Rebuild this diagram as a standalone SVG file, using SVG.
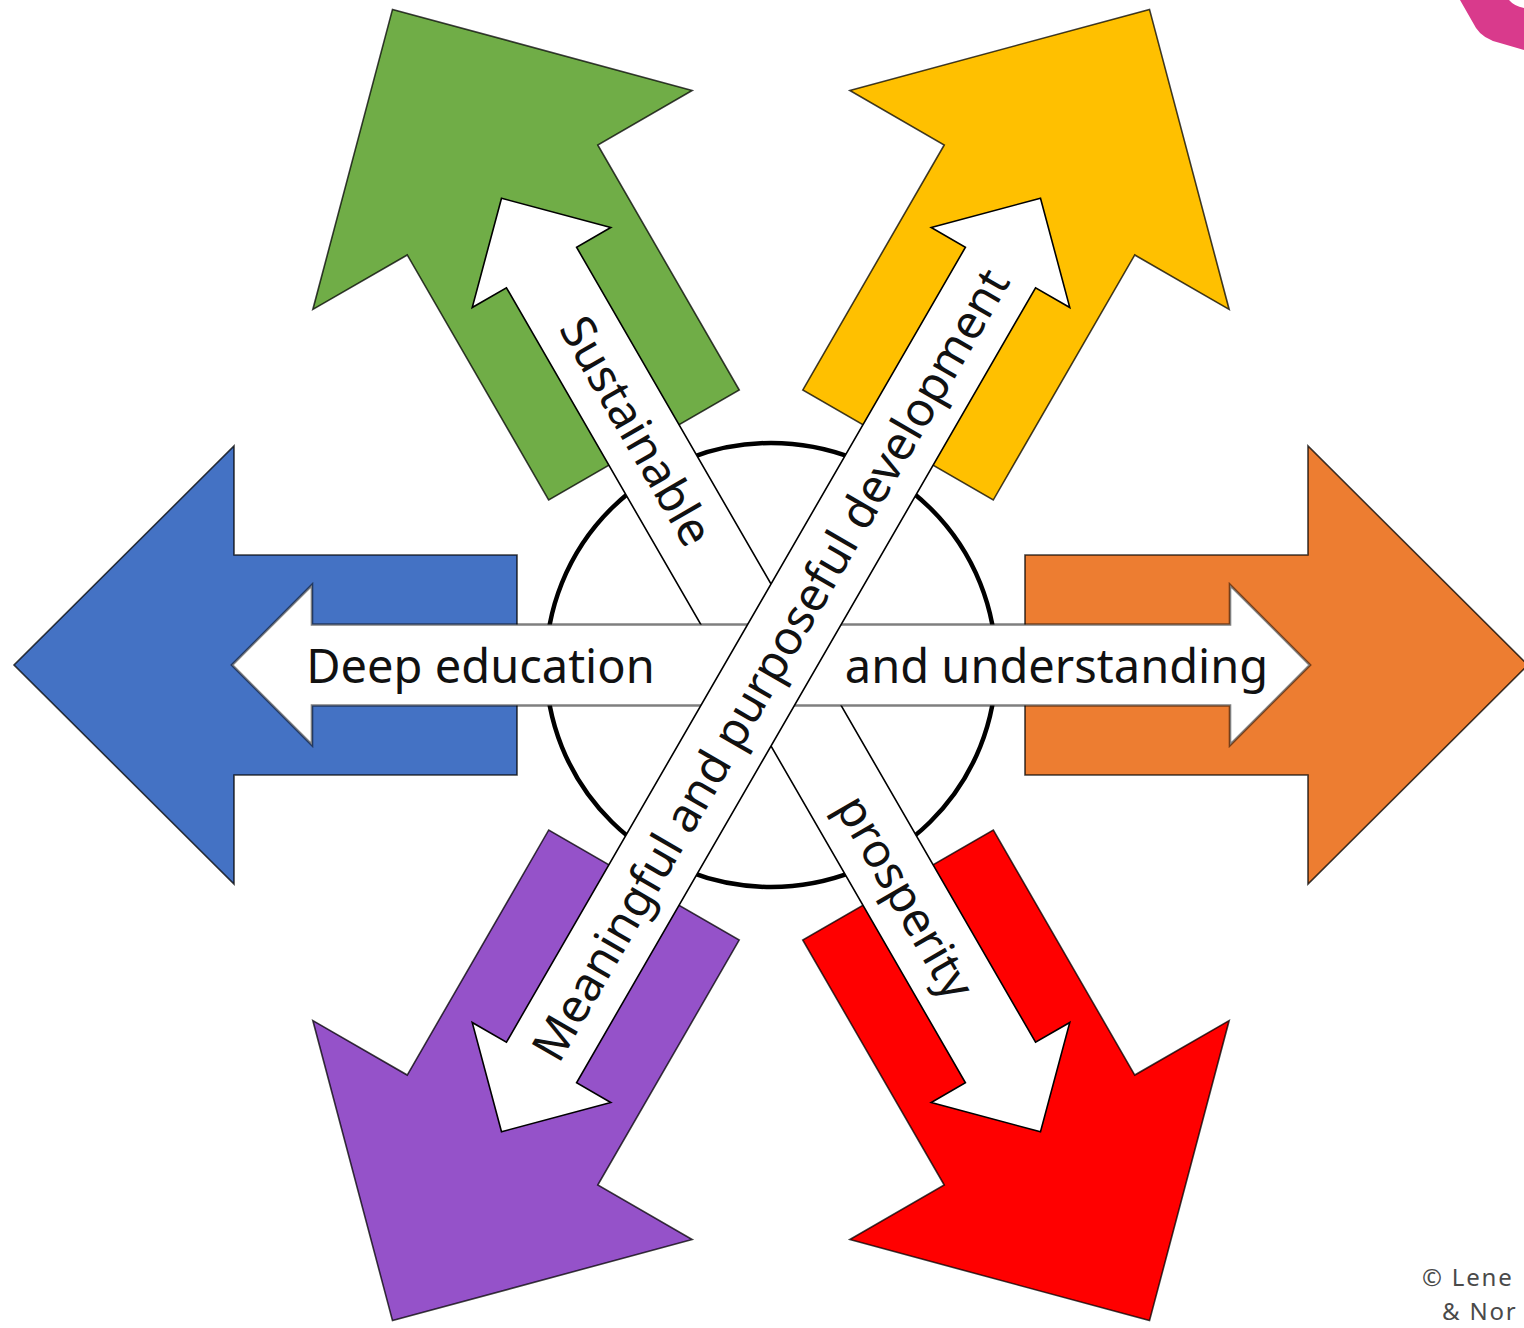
<svg xmlns="http://www.w3.org/2000/svg" width="1524" height="1328" viewBox="0 0 1524 1328">
  <defs>
    <style>
      .big { stroke: #000; stroke-opacity: 0.75; stroke-width: 1.6; stroke-linejoin: miter; }
      .band { fill: #fff; stroke: #000; stroke-width: 1.6; stroke-linejoin: miter; }
      .hband { fill: #fff; stroke: #000; stroke-opacity: 0.5; stroke-width: 2.6; stroke-linejoin: miter; }
      .lbl { font-family: "Noto Sans", "Open Sans", "Liberation Sans", sans-serif; font-size: 47px; fill: #111; }
      .copy { font-family: "Noto Sans", "Open Sans", "Liberation Sans", sans-serif; font-size: 24px; letter-spacing: 1.8px; fill: #4a4a4a; }
    </style>
    <path id="bigArrow" d="M254,-110 L537,-110 L537,-219 L757,0 L537,219 L537,110 L254,110 Z"/>
    <path id="dblArrow" d="M-539,0 L-459,-80 L-459,-40.5 L459,-40.5 L459,-80 L539,0 L459,80 L459,40.5 L-459,40.5 L-459,80 Z"/>
  </defs>
  <rect width="1524" height="1328" fill="#fff"/>

  <path id="corner-mark" d="M1460,0 L1476,28 Q1483,39 1500,43 L1524,50 L1524,8 Q1514,6 1509,0 Z" fill="#D93A8C"/>

  <g id="hub">
    <ellipse cx="771" cy="665" rx="225" ry="222" fill="#fff" stroke="#000" stroke-width="4.5"/>
  </g>

  <g id="arrow-orange"><use href="#bigArrow" class="big" fill="#ED7D31" transform="translate(771,665)"/></g>
  <g id="arrow-red"><use href="#bigArrow" class="big" fill="#FF0000" transform="translate(771,665) rotate(60)"/></g>
  <g id="arrow-purple"><use href="#bigArrow" class="big" fill="#9552C9" transform="translate(771,665) rotate(120)"/></g>
  <g id="arrow-blue"><use href="#bigArrow" class="big" fill="#4472C4" transform="translate(771,665) rotate(180)"/></g>
  <g id="arrow-green"><use href="#bigArrow" class="big" fill="#70AD47" transform="translate(771,665) rotate(240)"/></g>
  <g id="arrow-yellow"><use href="#bigArrow" class="big" fill="#FFC000" transform="translate(771,665) rotate(300)"/></g>

  <g id="connectors">
    <g id="band-sustainable" transform="translate(771,665) rotate(60)">
      <use href="#dblArrow" class="band"/>
      <text class="lbl" x="-270" y="16" text-anchor="middle">Sustainable</text>
      <text class="lbl" x="268" y="16" text-anchor="middle">prosperity</text>
    </g>
    <g id="band-education" transform="translate(771,665)">
      <use href="#dblArrow" class="hband"/>
      <text class="lbl" x="-290.5" y="18" text-anchor="middle">Deep education</text>
      <text class="lbl" x="285.5" y="18" text-anchor="middle">and understanding</text>
    </g>
    <g id="band-development" transform="translate(771,665) rotate(-60)">
      <use href="#dblArrow" class="band"/>
      <text class="lbl" x="0" y="16" text-anchor="middle">Meaningful and purposeful development</text>
    </g>
  </g>

  <g id="copyright">
    <text class="copy" x="1422" y="1286">© Lene</text>
    <text class="copy" x="1442" y="1320">&amp; Nor</text>
  </g>
</svg>
